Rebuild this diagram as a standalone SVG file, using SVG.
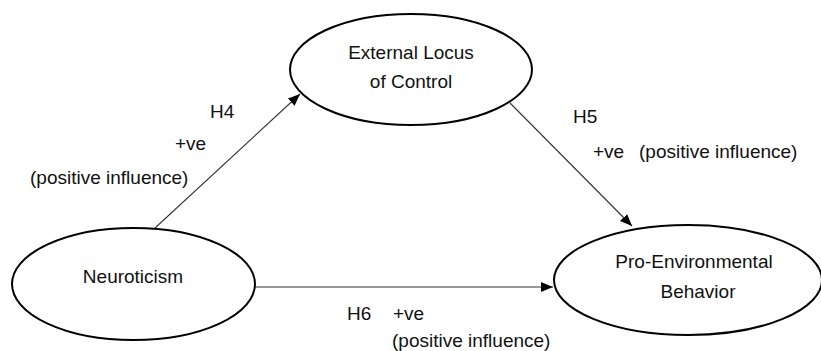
<svg xmlns="http://www.w3.org/2000/svg" width="821" height="351" viewBox="0 0 821 351">
<style>
.node{fill:#fff;stroke:#000;stroke-width:2}
.t{font-family:"Liberation Sans",Arial,sans-serif;font-size:19px;fill:#111}
.c{text-anchor:middle}
.edge{stroke:#333;stroke-width:1.1;fill:none}
</style>
<defs>
<marker id="ah" viewBox="0 0 12 10" refX="12" refY="5" markerWidth="12" markerHeight="10" markerUnits="userSpaceOnUse" orient="auto">
<path d="M0,0 L12,5 L0,10 z" fill="#000"/>
</marker>
</defs>
<rect width="821" height="351" fill="#fff"/>
<g id="connectors">
<line class="edge" x1="155" y1="228" x2="300" y2="94" marker-end="url(#ah)"/>
<line class="edge" x1="510" y1="103" x2="632" y2="226" marker-end="url(#ah)"/>
<line class="edge" x1="255" y1="287" x2="553" y2="287" marker-end="url(#ah)"/>
</g>
<g id="node-external">
<ellipse class="node" cx="411" cy="69.5" rx="121" ry="55.5"/>
<text class="t c" x="411" y="59">External Locus</text>
<text class="t c" x="411" y="88">of Control</text>
</g>
<g id="node-neuroticism">
<ellipse class="node" cx="133.5" cy="284" rx="121.5" ry="56"/>
<text class="t c" x="133" y="283">Neuroticism</text>
</g>
<g id="node-pro">
<ellipse class="node" cx="688" cy="280" rx="134" ry="55"/>
<text class="t c" x="694" y="268">Pro-Environmental</text>
<text class="t c" x="698" y="298">Behavior</text>
</g>
<g id="labels">
<text class="t" x="210" y="118">H4</text>
<text class="t" x="175" y="150">+ve</text>
<text class="t" x="30" y="184">(positive influence)</text>
<text class="t" x="573" y="123">H5</text>
<text class="t" x="593" y="158">+ve</text>
<text class="t" x="639" y="158">(positive influence)</text>
<text class="t" x="347" y="320">H6</text>
<text class="t" x="393" y="320">+ve</text>
<text class="t" x="392" y="347">(positive influence)</text>
</g>
</svg>
